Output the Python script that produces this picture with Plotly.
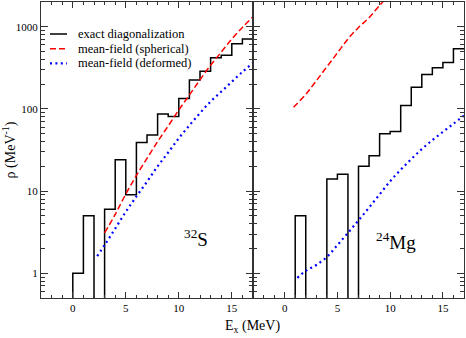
import plotly.graph_objects as go
from plotly.subplots import make_subplots

# 32S: exact diagonalization, 1 MeV bins starting at 0 MeV
s32_edges = list(range(0, 18))
s32_rho = [1, 5, 0, 6, 24, 9, 39, 48, 87, 81, 134, 225, 288, 420, 450, 620, 710]

# 24Mg: exact diagonalization, 1 MeV bins starting at 1 MeV
mg24_edges = list(range(1, 18))
mg24_rho = [5, 0, 0, 14, 16, 0, 20, 27, 50, 53, 110, 183, 263, 316, 368, 540]

# mean-field curves
s32_sph_E = [3, 4, 5, 6, 7, 8, 9, 10, 11, 12, 13, 14, 15, 16, 17]
s32_sph = [3.1, 5.2, 9.2, 15.5, 25, 40, 62, 97, 148, 226, 340, 490, 710, 980, 1320]
s32_def_E = [2.3, 3, 4, 5, 6, 7, 8, 9, 10, 11, 12, 13, 14, 15, 16, 17]
s32_def = [1.62, 2.2, 3.5, 5.6, 8.6, 13, 20, 29.5, 44, 63, 89, 123, 162, 214, 282, 363]

mg24_sph_E = [0.85, 1, 2, 3, 4, 5, 6, 7, 8, 9, 10]
mg24_sph = [105, 110, 150, 220, 325, 480, 710, 980, 1290, 1820, 2500]
mg24_def_E = [1.2, 2, 3, 4, 5, 6, 7, 8, 9, 10, 11, 12, 13, 14, 15, 16, 17]
mg24_def = [0.88, 1.07, 1.26, 1.58, 2.2, 3.1, 4.4, 6.3, 9.1, 13.2, 18.2, 24.5, 32.4, 41.7, 52.5, 66, 83]

FLOOR = 0.3  # zero-count bins drop below the visible range
FONT = "Liberation Serif, Times New Roman, Times, serif"
AX = "#333"

W, H = 466, 338
L, R, T, B = 41, 2, 2, 40
PW, PH = W - L - R, H - T - B


def px(x):
    return (x - L) / PW


def py(y):
    return (H - B - y) / PH


def steps(edges, rho):
    vals = [v if v > 0 else FLOOR for v in rho]
    return [edges[0]] + edges, [FLOOR] + vals + [vals[-1]]


fig = make_subplots(rows=1, cols=2, shared_yaxes=False, horizontal_spacing=0)

for col, (edges, rho, sE, sv, dE, dv) in enumerate([
    (s32_edges, s32_rho, s32_sph_E, s32_sph, s32_def_E, s32_def),
    (mg24_edges, mg24_rho, mg24_sph_E, mg24_sph, mg24_def_E, mg24_def),
], start=1):
    hx, hy = steps(edges, rho)
    fig.add_trace(go.Scatter(x=hx, y=hy, mode="lines", line=dict(color="black", width=1.5, shape="hv"),
                             showlegend=False), row=1, col=col)
    fig.add_trace(go.Scatter(x=sE, y=sv, mode="lines",
                             line=dict(color="#ff0000", width=1.5, dash="6px,3px", shape="spline"),
                             showlegend=False), row=1, col=col)
    fig.add_trace(go.Scatter(x=dE, y=dv, mode="lines",
                             line=dict(color="#0000ff", width=2.2, dash="2px,3.4px", shape="spline"),
                             showlegend=False), row=1, col=col)

split = px(253)
xax = dict(range=[-3, 17], tickvals=[0, 5, 10, 15], ticks="inside", ticklen=6, tickcolor=AX,
           showline=True, linecolor=AX, linewidth=1.2, mirror="allticks", showgrid=False, zeroline=False,
           tickfont=dict(family=FONT, size=11, color="black"),
           minor=dict(dtick=1, ticks="inside", ticklen=3, tickcolor=AX, showgrid=False))
yax = dict(type="log", range=[-0.30103, 3.30103], tickvals=[1, 10, 100, 1000], ticks="inside", ticklen=7,
           tickcolor=AX, showline=True, linecolor=AX, linewidth=1.2, mirror="allticks", showgrid=False,
           zeroline=False, tickfont=dict(family=FONT, size=11, color="black"),
           minor=dict(dtick="D1", ticks="inside", ticklen=4, tickcolor=AX, showgrid=False))

fig.update_layout(
    xaxis=dict(xax, domain=[0, split]),
    xaxis2=dict(xax, domain=[split, 1]),
    yaxis=dict(yax, title=dict(text="ρ (MeV<sup>-1</sup>)", font=dict(family=FONT, size=14), standoff=4)),
    yaxis2=dict(yax, showticklabels=False),
    width=W, height=H,
    margin=dict(l=L, r=R, t=T, b=B, autoexpand=False),
    paper_bgcolor="white", plot_bgcolor="white",
    font=dict(family=FONT, color="black"),
)

# x title shared by both panels
fig.add_annotation(text="E<sub>x</sub> (MeV)", x=px(253), y=py(337), xref="paper", yref="paper",
                   yanchor="bottom", showarrow=False, font=dict(family=FONT, size=14))
fig.add_annotation(text="<sup>32</sup>S", x=px(196), y=py(252), xref="paper", yref="paper",
                   yanchor="bottom", showarrow=False, font=dict(family=FONT, size=19))
fig.add_annotation(text="<sup>24</sup>Mg", x=px(418), y=py(255), xref="paper", yref="paper",
                   yanchor="bottom", showarrow=False, font=dict(family=FONT, size=19))

# legend drawn by hand to match the short sample lines
legend = [
    ("exact diagonalization", dict(color="black", width=1.5)),
    ("mean-field (spherical)", dict(color="#ff0000", width=1.5, dash="6px,3px")),
    ("mean-field (deformed)", dict(color="#0000ff", width=2.2, dash="2px,3.4px")),
]
for i, (label, ln) in enumerate(legend):
    yy = 34 + i * 14.7
    fig.add_shape(type="line", xref="paper", yref="paper", x0=px(50), x1=px(67), y0=py(yy), y1=py(yy), line=ln)
    fig.add_annotation(text=label, x=px(76), y=py(yy), xref="paper", yref="paper", xanchor="left",
                       yanchor="middle", showarrow=False, font=dict(family=FONT, size=12.5))

fig.write_html("out.html", config={"displayModeBar": False},
               post_script="document.body.style.margin='0';")
